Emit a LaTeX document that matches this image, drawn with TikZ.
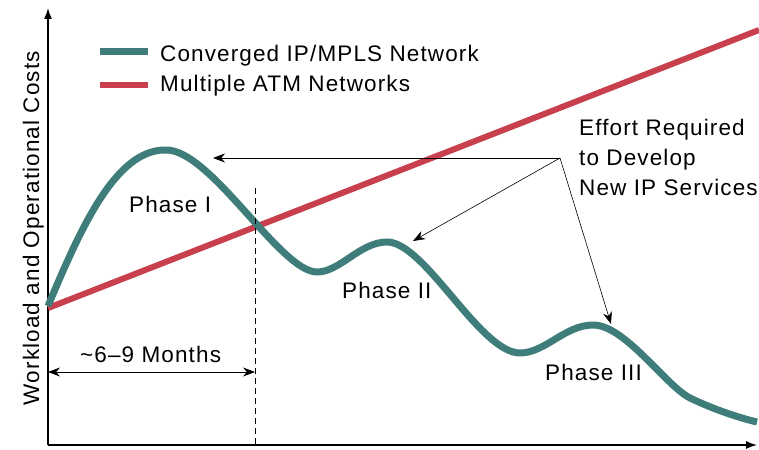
\documentclass[tikz,border=0pt]{standalone}
\usepackage{fontspec}
\setmainfont{Liberation Sans}[LetterSpace=5]
\usetikzlibrary{arrows.meta}
\definecolor{mplsteal}{RGB}{62,125,122}
\definecolor{atmred}{RGB}{200,64,78}

\begin{document}
\begin{tikzpicture}[x=1pt,y=-1pt,
    every node/.style={font=\fontsize{22.5}{30}\selectfont,inner sep=0pt},
    axis/.style={line width=1.3pt,-{Latex[length=11pt,width=8pt]}},
    effort/.style={line width=0.6pt,-{Stealth[length=12pt,width=9pt]}},
    mpls/.style={mplsteal,line width=7pt},
    atm/.style={atmred,line width=6pt}]
  \useasboundingbox (0,0) rectangle (759,449);

  \coordinate (origin) at (48,445);
  \coordinate (ytop) at (48,8);
  \coordinate (xend) at (757,445);
  \draw[axis] (origin) -- (ytop);
  \draw[axis] (origin) -- (xend);
  \node[rotate=90,anchor=base] (ylabel) at (39,228) {Workload and Operational Costs};

  \draw[mpls] (100,52) -- (148,52);
  \node[anchor=base west] (legmpls) at (160,62) {Converged IP/MPLS Network};
  \draw[atm] (100,85) -- (148,85);
  \node[anchor=base west] (legatm) at (160,92) {Multiple ATM Networks};

  \draw[atm] (48,308) -- (759,30);
  \draw[mpls,line join=round]
    (48,306) .. controls (80,230) and (115,150) .. (165,150)
    .. controls (210,148) and (280,272) .. (317,272)
    .. controls (340,272) and (360,242) .. (387,242)
    .. controls (425,242) and (480,353) .. (520,353)
    .. controls (545,353) and (565,325) .. (593,325)
    .. controls (625,325) and (665,385) .. (690,398)
    .. controls (715,410) and (740,418) .. (757,422);

  \node[anchor=base west] (phaseI) at (129,212) {Phase I};
  \node[anchor=base west] (phaseII) at (342,298) {Phase II};
  \node[anchor=base west] (phaseIII) at (545,380) {Phase III};

  \coordinate (dashtop) at (255,188);
  \coordinate (dashbot) at (255,445);
  \draw[dashed,dash pattern=on 6pt off 4pt,line width=0.8pt] (dashtop) -- (dashbot);
  \coordinate (monthsL) at (48,372);
  \coordinate (monthsR) at (255,372);
  \draw[line width=0.8pt,{Stealth[length=12pt,width=9pt]}-{Stealth[length=12pt,width=9pt]}] (monthsL) -- (monthsR);
  \node[anchor=base west] (months) at (80,362) {\textasciitilde6--9 Months};

  \node[anchor=north west,align=left] (effortlbl) at (579,119) {Effort Required\\to Develop\\New IP Services};
  \coordinate (hub) at (560,158);
  \coordinate (tipI) at (213,158);
  \coordinate (tipII) at (413,241);
  \coordinate (tipIII) at (611,324);
  \draw[effort] (hub) -- (tipI);
  \draw[effort] (hub) -- (tipII);
  \draw[effort] (hub) -- (tipIII);
\end{tikzpicture}
\end{document}
